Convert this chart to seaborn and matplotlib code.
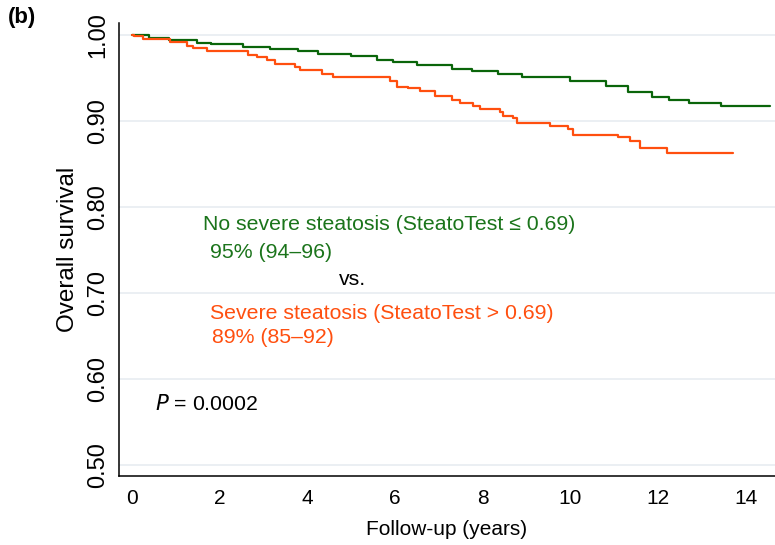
import numpy as np
import pandas as pd
import matplotlib
matplotlib.use("Agg")
import matplotlib.pyplot as plt
import seaborn as sns

# ---- data ----
green_t = [0.0, 0.4, 0.85, 1.5, 1.8, 2.55, 3.15, 3.8, 4.25, 5.0, 5.6, 5.95, 6.5,
           7.3, 7.75, 8.35, 8.9, 10.0, 10.8, 11.3, 11.85, 12.25, 12.7, 13.42, 14.54]
green_s = [1.000, 0.997, 0.994, 0.991, 0.989, 0.986, 0.984, 0.981, 0.978, 0.976,
           0.971, 0.969, 0.965, 0.961, 0.958, 0.955, 0.951, 0.947, 0.941, 0.934,
           0.928, 0.924, 0.921, 0.917, 0.917]

orange_t = [0.0, 0.05, 0.27, 0.88, 1.26, 1.40, 1.72, 2.66, 2.86, 3.08, 3.27, 3.72,
            3.84, 4.34, 4.59, 5.9, 6.05, 6.30, 6.57, 6.91, 7.30, 7.48, 7.78, 7.94,
            8.39, 8.46, 8.69, 8.78, 9.53, 9.94, 10.06, 11.09, 11.36, 11.58, 12.2, 13.71]
orange_s = [1.000, 0.999, 0.995, 0.992, 0.9876, 0.9845, 0.981, 0.977, 0.975, 0.971,
            0.966, 0.963, 0.959, 0.955, 0.951, 0.947, 0.940, 0.938, 0.935, 0.929,
            0.924, 0.921, 0.917, 0.914, 0.910, 0.906, 0.903, 0.898, 0.8945, 0.891,
            0.884, 0.881, 0.877, 0.868, 0.863, 0.863]

groups = ["No severe steatosis", "Severe steatosis"]
x_ticks = [0, 2, 4, 6, 8, 10, 12, 14]
y_ticks = [0.50, 0.60, 0.70, 0.80, 0.90, 1.00]

GREEN = "#0a650a"
GREEN_TXT = "#1b741b"
ORANGE = "#ff4f0f"

df = pd.concat([
    pd.DataFrame({"time": green_t, "surv": green_s, "group": groups[0]}),
    pd.DataFrame({"time": orange_t, "surv": orange_s, "group": groups[1]}),
], ignore_index=True)

sns.set_style("white")
plt.rcParams["font.family"] = ["Liberation Sans", "DejaVu Sans"]
plt.rcParams["axes.labelcolor"] = "black"
plt.rcParams["text.color"] = "black"

fig = plt.figure(figsize=(7.75, 5.45), dpi=100)
ax = fig.add_axes([119 / 775, 1 - 476 / 545, 1 - 119 / 775, (476 - 23) / 545])

sns.lineplot(data=df, x="time", y="surv", hue="group", estimator=None,
             palette={groups[0]: GREEN, groups[1]: ORANGE},
             drawstyle="steps-post", linewidth=1.6, legend=False, ax=ax, zorder=3)

ax.set_xlim(-0.285, 14.66)
ax.set_ylim(0.487, 1.014)
ax.set_xticks(x_ticks)
ax.set_xticklabels([str(v) for v in x_ticks], fontsize=15)
ax.set_yticks(y_ticks)
ax.set_yticklabels([f"{v:.2f}" for v in y_ticks], rotation=90, va="center",
                   fontsize=17)
ax.tick_params(axis="both", direction="out", length=5, width=1, color="black",
               labelcolor="black")
ax.tick_params(axis="x", pad=4)
ax.tick_params(axis="y", pad=2)
ax.yaxis.grid(True, color="#e9eef2", linewidth=1.3, zorder=0)
ax.xaxis.grid(False)
for side in ["top", "right"]:
    ax.spines[side].set_visible(False)
for side in ["left", "bottom"]:
    ax.spines[side].set_color("black")
    ax.spines[side].set_linewidth(1.1)

ax.set_xlabel("Follow-up (years)", fontsize=15, labelpad=9)
ax.set_ylabel("Overall survival", fontsize=17.5, labelpad=6)

ax.text(1.64, 0.7733, "No severe steatosis (SteatoTest \u2264 0.69)", color=GREEN_TXT,
        fontsize=15.3, va="baseline", ha="left")
ax.text(1.79, 0.741, "95% (94\u201396)", color=GREEN_TXT, fontsize=15.3,
        va="baseline", ha="left")
ax.text(4.73, 0.7093, "vs.", color="black", fontsize=15.3, va="baseline", ha="left")
ax.text(1.79, 0.6694, "Severe steatosis (SteatoTest > 0.69)", color=ORANGE,
        fontsize=15.3, va="baseline", ha="left")
ax.text(1.83, 0.6415, "89% (85\u201392)", color=ORANGE, fontsize=15.3,
        va="baseline", ha="left")
ax.text(0.535, 0.564, "$\\mathit{P}$ = 0.0002", color="black", fontsize=15.3,
        va="baseline", ha="left")

fig.text(0.010, 0.967, "(b)", fontsize=16, fontweight="bold", va="center", ha="left")

fig.savefig("out.png", dpi=100)
